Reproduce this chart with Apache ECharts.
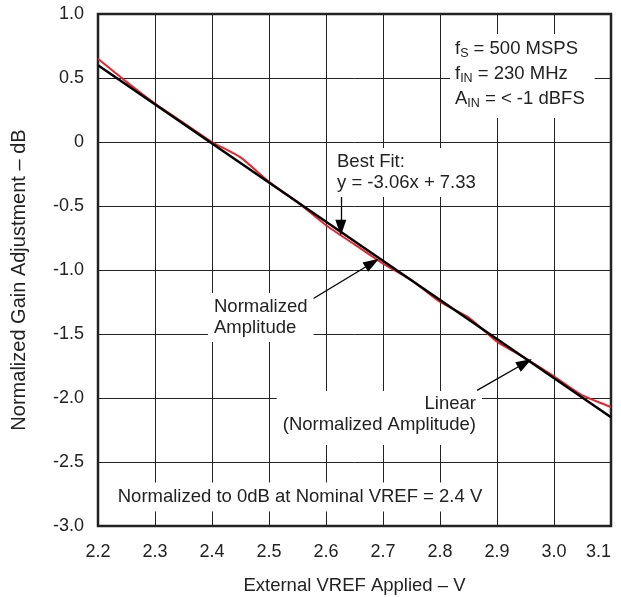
<!DOCTYPE html>
<html><head><meta charset="utf-8">
<script src="https://cdn.jsdelivr.net/npm/echarts@6/dist/echarts.min.js"></script>
<style>html,body{margin:0;padding:0;background:#fff}#c{width:621px;height:597px}</style>
</head><body><div id="c"></div>
<script>
// Measured normalized amplitude (red)
const vref = [2.20, 2.25, 2.30, 2.35, 2.40, 2.45, 2.50, 2.55, 2.60, 2.65, 2.70, 2.75, 2.80, 2.85, 2.90, 2.95, 3.00, 3.05, 3.10];
const gainMeasured = [0.65, 0.47, 0.30, 0.15, 0.00, -0.12, -0.31, -0.47, -0.65, -0.80, -0.95, -1.08, -1.25, -1.37, -1.56, -1.69, -1.83, -1.98, -2.07];
// Best fit line endpoints (black)
const fitX = [2.2, 3.1];
const fitY = [0.60, -2.15];
// Axis ranges
const xRange = [2.2, 3.1];
const yRange = [-3.0, 1.0];
// Arrow annotations [from, to] in data units
const arrowBestFit = [[2.626, -0.41], [2.626, -0.67]];
const arrowNormAmp = [[2.575, -1.23], [2.681, -0.945]];
const arrowLinear = [[2.865, -1.94], [2.949, -1.727]];

const FONT = 'Liberation Sans, Arial, sans-serif';
const chart = echarts.init(document.getElementById('c'), null, {renderer: 'canvas'});
function zip(a, b) { return a.map((v, i) => [v, b[i]]); }
function arrow(a) {
  return [{coord: a[0], symbol: 'none'}, {coord: a[1], symbol: 'triangle'}];
}
const FS = 18.5;
const txt = {fontFamily: FONT, fontSize: FS, fill: '#222'};

chart.setOption({
  animation: false,
  backgroundColor: '#fff',
  grid: {left: 98, right: 10, top: 14, bottom: 71, show: true, borderColor: '#222', borderWidth: 2.5,
         containLabel: false, outerBoundsMode: 'none'},
  xAxis: {
    type: 'value', min: xRange[0], max: xRange[1], interval: 0.1,
    name: 'External VREF Applied – V', nameLocation: 'middle', nameGap: 50,
    nameTextStyle: {fontFamily: FONT, fontSize: 18.5, color: '#222'},
    axisLine: {show: false}, axisTick: {show: false},
    axisLabel: {fontFamily: FONT, fontSize: 18, color: '#222', margin: 17, alignMaxLabel: 'right', formatter: v => v.toFixed(1)},
    splitLine: {show: true, lineStyle: {color: '#222', width: 1}}
  },
  yAxis: {
    type: 'value', min: yRange[0], max: yRange[1], interval: 0.5,
    axisLine: {show: false}, axisTick: {show: false},
    axisLabel: {fontFamily: FONT, fontSize: 18, color: '#222', margin: 14, formatter: v => Math.abs(v) < 1e-9 ? '0' : v.toFixed(1)},
    splitLine: {show: true, lineStyle: {color: '#222', width: 1}}
  },
  series: [
    {type: 'line', data: zip(vref, gainMeasured), showSymbol: false, smooth: 0.2, z: 3,
     lineStyle: {color: '#e8242c', width: 2}},
    {type: 'line', data: zip(fitX, fitY), showSymbol: false, z: 4,
     lineStyle: {color: '#000', width: 2.5},
     markLine: {silent: true, symbolSize: [11, 16], label: {show: false},
       lineStyle: {color: '#000', width: 1.3, type: 'solid'},
       data: [arrow(arrowBestFit), arrow(arrowNormAmp), arrow(arrowLinear)]}}
  ],
  graphic: [
    {type: 'text', x: 19, y: 280, rotation: Math.PI / 2, z: 100, style: Object.assign({}, txt, {
      text: 'Normalized Gain Adjustment – dB', fontSize: 20, align: 'center', verticalAlign: 'middle'})},
    {type: 'text', x: 450, y: 34, z: 100, style: {
      text: '{m|f}{s|S}{m| = 500 MSPS}\n{m|f}{s|IN}{m| = 230 MHz}\n{m|A}{s|IN}{m| = < -1 dBFS}',
      backgroundColor: '#fff', padding: [2, 10, 7, 5], fill: '#222', fontFamily: FONT,
      rich: {m: {fontSize: FS, lineHeight: 25, fontFamily: FONT}, s: {fontSize: 12.5, lineHeight: 15, padding: [10, 0, 0, 0], fontFamily: FONT}}
    }},
    {type: 'text', x: 331, y: 148, z: 100, style: Object.assign({}, txt, {
      text: 'Best Fit:\ny = -3.06x + 7.33', lineHeight: 21, backgroundColor: '#fff', padding: [3, 6, 4, 6]})},
    {type: 'text', x: 208, y: 293, z: 100, style: Object.assign({}, txt, {
      text: 'Normalized\nAmplitude', lineHeight: 21, backgroundColor: '#fff', padding: [3, 6, 4, 6]})},
    {type: 'text', x: 482, y: 391, z: 100, style: Object.assign({}, txt, {
      text: 'Linear\n(Normalized Amplitude)', align: 'right', verticalAlign: 'top', lineHeight: 21, backgroundColor: '#fff', padding: [2, 6, 10, 6]})},
    {type: 'text', x: 300, y: 497, z: 100, style: Object.assign({}, txt, {
      text: 'Normalized to 0dB at Nominal VREF = 2.4 V', align: 'center', verticalAlign: 'middle', backgroundColor: '#fff', padding: [5, 6, 5, 6]})}
  ]
});
</script></body></html>
